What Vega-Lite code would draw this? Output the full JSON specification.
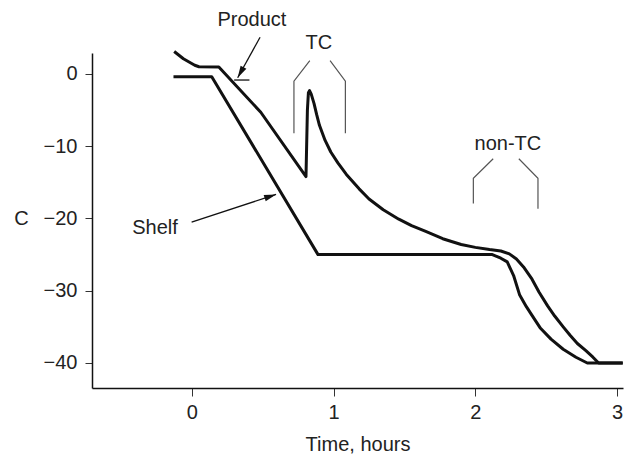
{
  "$schema": "https://vega.github.io/schema/vega-lite/v6.json",
  "width": 531,
  "height": 335,
  "autosize": {"type": "none"},
  "padding": {"left": 92, "top": 53, "right": 7, "bottom": 68},
  "background": "white",
  "config": {"view": {"stroke": null}, "font": "Liberation Sans"},
  "datasets": {
    "curves": [
      {"series": "Product", "t": -0.125, "c": 3.1},
      {"series": "Product", "t": -0.06, "c": 2.1},
      {"series": "Product", "t": 0.02, "c": 1.2},
      {"series": "Product", "t": 0.05, "c": 1.0},
      {"series": "Product", "t": 0.19, "c": 0.95},
      {"series": "Product", "t": 0.486, "c": -5.3},
      {"series": "Product", "t": 0.805, "c": -14.2},
      {"series": "Product", "t": 0.815, "c": -5.0},
      {"series": "Product", "t": 0.822, "c": -2.6},
      {"series": "Product", "t": 0.83, "c": -2.3},
      {"series": "Product", "t": 0.842, "c": -2.8},
      {"series": "Product", "t": 0.862, "c": -4.1},
      {"series": "Product", "t": 0.88, "c": -5.6},
      {"series": "Product", "t": 0.9, "c": -7.1},
      {"series": "Product", "t": 0.94, "c": -9.2},
      {"series": "Product", "t": 0.98, "c": -10.8},
      {"series": "Product", "t": 1.03, "c": -12.3},
      {"series": "Product", "t": 1.09, "c": -13.9},
      {"series": "Product", "t": 1.18, "c": -15.9},
      {"series": "Product", "t": 1.25, "c": -17.3},
      {"series": "Product", "t": 1.35, "c": -18.8},
      {"series": "Product", "t": 1.46, "c": -20.1},
      {"series": "Product", "t": 1.55, "c": -21.0},
      {"series": "Product", "t": 1.65, "c": -21.8},
      {"series": "Product", "t": 1.77, "c": -22.8},
      {"series": "Product", "t": 1.9, "c": -23.6},
      {"series": "Product", "t": 2.0, "c": -24.0},
      {"series": "Product", "t": 2.1, "c": -24.3},
      {"series": "Product", "t": 2.18, "c": -24.5},
      {"series": "Product", "t": 2.24, "c": -24.9},
      {"series": "Product", "t": 2.29, "c": -25.6},
      {"series": "Product", "t": 2.34, "c": -26.7},
      {"series": "Product", "t": 2.4, "c": -28.4},
      {"series": "Product", "t": 2.45, "c": -30.2},
      {"series": "Product", "t": 2.51, "c": -32.1},
      {"series": "Product", "t": 2.56, "c": -33.5},
      {"series": "Product", "t": 2.62, "c": -35.0},
      {"series": "Product", "t": 2.67, "c": -36.2},
      {"series": "Product", "t": 2.72, "c": -37.3},
      {"series": "Product", "t": 2.78, "c": -38.3},
      {"series": "Product", "t": 2.83, "c": -39.2},
      {"series": "Product", "t": 2.87, "c": -40.0},
      {"series": "Product", "t": 3.04, "c": -40.0},
      {"series": "Shelf", "t": -0.13, "c": -0.38},
      {"series": "Shelf", "t": 0.14, "c": -0.38},
      {"series": "Shelf", "t": 0.89, "c": -25.0},
      {"series": "Shelf", "t": 2.12, "c": -25.0},
      {"series": "Shelf", "t": 2.18, "c": -25.5},
      {"series": "Shelf", "t": 2.225, "c": -26.0},
      {"series": "Shelf", "t": 2.27, "c": -27.9},
      {"series": "Shelf", "t": 2.313, "c": -30.6},
      {"series": "Shelf", "t": 2.36, "c": -32.2},
      {"series": "Shelf", "t": 2.4, "c": -33.4},
      {"series": "Shelf", "t": 2.46, "c": -35.2},
      {"series": "Shelf", "t": 2.534, "c": -36.7},
      {"series": "Shelf", "t": 2.62, "c": -38.1},
      {"series": "Shelf", "t": 2.71, "c": -39.2},
      {"series": "Shelf", "t": 2.79, "c": -40.0},
      {"series": "Shelf", "t": 3.04, "c": -40.0}
    ],
    "brackets": [
      {"group": "TC-left", "i": 1, "t": 0.832, "c": 1.84},
      {"group": "TC-left", "i": 2, "t": 0.72, "c": -0.99},
      {"group": "TC-left", "i": 3, "t": 0.72, "c": -8.21},
      {"group": "TC-right", "i": 1, "t": 0.975, "c": 1.84},
      {"group": "TC-right", "i": 2, "t": 1.083, "c": -0.99},
      {"group": "TC-right", "i": 3, "t": 1.083, "c": -8.21},
      {"group": "nonTC-left", "i": 1, "t": 2.126, "c": -11.73},
      {"group": "nonTC-left", "i": 2, "t": 1.986, "c": -14.43},
      {"group": "nonTC-left", "i": 3, "t": 1.986, "c": -17.94},
      {"group": "nonTC-right", "i": 1, "t": 2.307, "c": -11.73},
      {"group": "nonTC-right", "i": 2, "t": 2.442, "c": -14.43},
      {"group": "nonTC-right", "i": 3, "t": 2.442, "c": -18.65}
    ],
    "arrows": [
      {"group": "Product", "i": 1, "t": 0.481, "c": 5.08},
      {"group": "Product", "i": 2, "t": 0.323, "c": -0.53},
      {"group": "ProductTick", "i": 1, "t": 0.298, "c": -0.84},
      {"group": "ProductTick", "i": 2, "t": 0.406, "c": -0.84},
      {"group": "Shelf", "i": 1, "t": -0.002, "c": -20.5},
      {"group": "Shelf", "i": 2, "t": 0.594, "c": -16.67}
    ],
    "heads": [
      {"name": "Product", "t": 0.323, "c": -0.53},
      {"name": "Shelf", "t": 0.594, "c": -16.67}
    ],
    "labels": [
      {"text": "Product", "t": 0.423, "c": 7.47},
      {"text": "TC", "t": 0.895, "c": 4.25},
      {"text": "non-TC", "t": 2.23, "c": -9.65},
      {"text": "Shelf", "t": -0.26, "c": -21.25}
    ]
  },
  "encoding": {
    "x": {
      "field": "t",
      "type": "quantitative",
      "scale": {"domain": [-0.705, 3.042], "nice": false, "zero": false},
      "axis": {
        "title": "Time, hours",
        "values": [0, 1, 2, 3],
        "grid": false,
        "domainColor": "#111",
        "domainWidth": 1.5,
        "tickColor": "#333",
        "tickWidth": 1,
        "tickSize": 8,
        "labelFont": "Liberation Sans",
        "labelFontSize": 20,
        "labelColor": "#222",
        "labelPadding": 6,
        "titleFont": "Liberation Sans",
        "titleFontSize": 20,
        "titleFontWeight": "normal",
        "titleColor": "#222",
        "titleBaseline": "alphabetic",
        "titleY": 62
      }
    },
    "y": {
      "field": "c",
      "type": "quantitative",
      "scale": {"domain": [-43.46, 2.9], "nice": false, "zero": false},
      "axis": {
        "title": "C",
        "values": [0, -10, -20, -30, -40],
        "grid": false,
        "domainColor": "#111",
        "domainWidth": 1.5,
        "tickColor": "#333",
        "tickWidth": 1,
        "tickSize": 7,
        "labelFont": "Liberation Sans",
        "labelFontSize": 20,
        "labelColor": "#222",
        "labelPadding": 8,
        "titleFont": "Liberation Sans",
        "titleFontSize": 20,
        "titleFontWeight": "normal",
        "titleColor": "#222",
        "titleAngle": 0,
        "titleAlign": "center",
        "titleBaseline": "middle",
        "titleX": -71,
        "titleY": 165
      }
    }
  },
  "layer": [
    {
      "data": {"name": "brackets"},
      "mark": {"type": "line", "stroke": "#555", "strokeWidth": 1.2},
      "encoding": {"detail": {"field": "group"}, "order": {"field": "i"}}
    },
    {
      "data": {"name": "arrows"},
      "mark": {"type": "line", "stroke": "#111", "strokeWidth": 1.3},
      "encoding": {"detail": {"field": "group"}, "order": {"field": "i"}}
    },
    {
      "data": {"name": "heads"},
      "transform": [{"filter": "datum.name === 'Product'"}],
      "mark": {"type": "point", "shape": "M0,0L0.55,2L-0.55,2Z", "filled": true, "size": 144, "angle": 208.9, "color": "#111", "opacity": 1},
      "encoding": {}
    },
    {
      "data": {"name": "heads"},
      "transform": [{"filter": "datum.name === 'Shelf'"}],
      "mark": {"type": "point", "shape": "M0,0L0.55,2L-0.55,2Z", "filled": true, "size": 144, "angle": 71.9, "color": "#111", "opacity": 1},
      "encoding": {}
    },
    {
      "data": {"name": "curves"},
      "mark": {"type": "line", "stroke": "#111", "strokeWidth": 3, "strokeJoin": "round"},
      "encoding": {"detail": {"field": "series"}}
    },
    {
      "data": {"name": "labels"},
      "mark": {"type": "text", "font": "Liberation Sans", "fontSize": 20, "color": "#222", "align": "center", "baseline": "middle"},
      "encoding": {"text": {"field": "text"}}
    }
  ]
}
